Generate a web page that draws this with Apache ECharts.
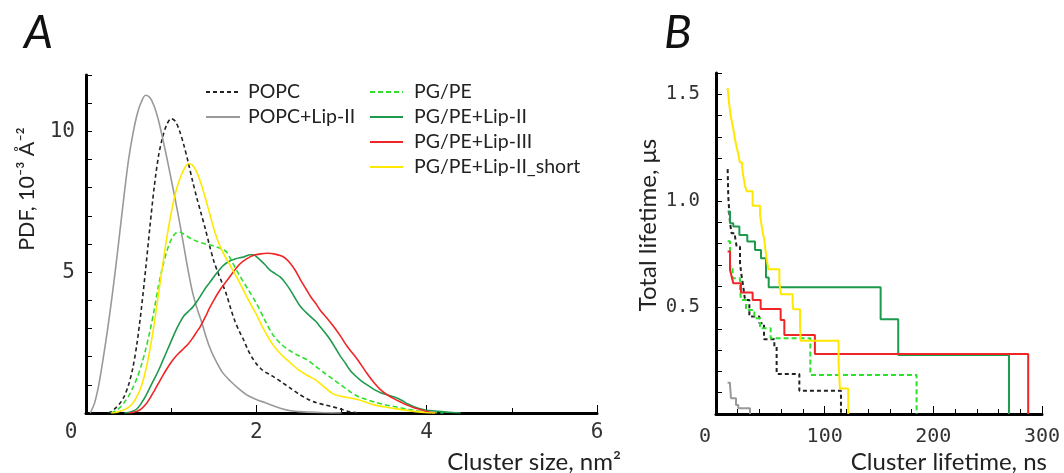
<!DOCTYPE html>
<html>
<head>
<meta charset="utf-8">
<script src="https://cdn.jsdelivr.net/npm/echarts@6/dist/echarts.min.js"></script>
<style>
html,body{margin:0;padding:0;background:#fff;}
#chart{width:1064px;height:473px;}
</style>
</head>
<body>
<div id="chart"></div>
<script>
// ---------- Panel A: PDF of cluster size (x in nm^2, y in 1e-3 A^-2) ----------
const popcPdf = [[0.26,0],[0.3,0.05],[0.35,0.18],[0.4,0.35],[0.45,0.6],[0.5,1.0],[0.55,1.6],[0.6,2.5],[0.65,3.7],[0.7,5.1],[0.75,6.6],[0.8,8.0],[0.85,9.1],[0.9,9.8],[0.95,10.25],[1.0,10.45],[1.05,10.35],[1.1,10.0],[1.15,9.5],[1.2,8.9],[1.25,8.25],[1.3,7.65],[1.35,7.1],[1.4,6.55],[1.45,5.95],[1.5,5.4],[1.55,4.98],[1.6,4.6],[1.65,4.2],[1.7,3.7],[1.75,3.25],[1.8,2.9],[1.85,2.6],[1.9,2.25],[1.95,1.97],[2.0,1.75],[2.05,1.58],[2.1,1.46],[2.15,1.38],[2.2,1.29],[2.3,1.09],[2.4,0.88],[2.5,0.67],[2.6,0.5],[2.7,0.37],[2.8,0.29],[2.9,0.22],[3.0,0.13],[3.1,0.04],[3.2,0]];
const popcLipIIPdf = [[0.05,0],[0.1,0.35],[0.15,1.0],[0.2,1.9],[0.25,2.9],[0.3,4.0],[0.35,5.2],[0.4,6.5],[0.45,7.8],[0.5,9.0],[0.55,9.9],[0.6,10.6],[0.65,11.05],[0.7,11.28],[0.75,11.2],[0.8,10.9],[0.85,10.4],[0.9,9.75],[0.95,9.05],[1.0,8.3],[1.05,7.55],[1.1,6.75],[1.15,5.9],[1.2,5.05],[1.25,4.3],[1.3,3.75],[1.35,3.3],[1.4,2.8],[1.45,2.35],[1.5,2.0],[1.6,1.45],[1.7,1.12],[1.8,0.85],[1.9,0.62],[2.0,0.48],[2.1,0.37],[2.2,0.26],[2.3,0.15],[2.4,0.08],[2.5,0.05],[2.6,0.03],[2.8,0.01],[3.0,0]];
const pgpePdf = [[0.29,0],[0.35,0.08],[0.4,0.2],[0.45,0.38],[0.5,0.6],[0.55,0.9],[0.6,1.25],[0.65,1.7],[0.7,2.25],[0.75,2.9],[0.8,3.65],[0.85,4.5],[0.9,5.2],[0.95,5.75],[1.0,6.15],[1.05,6.38],[1.1,6.42],[1.15,6.35],[1.2,6.25],[1.3,6.1],[1.4,6.0],[1.45,5.97],[1.5,5.93],[1.55,5.88],[1.6,5.82],[1.65,5.72],[1.7,5.45],[1.75,5.17],[1.8,4.9],[1.9,4.4],[2.0,3.9],[2.1,3.3],[2.2,2.75],[2.3,2.42],[2.4,2.2],[2.5,2.03],[2.6,1.88],[2.7,1.65],[2.8,1.42],[2.9,1.2],[3.0,0.98],[3.1,0.76],[3.2,0.58],[3.3,0.47],[3.4,0.38],[3.5,0.3],[3.6,0.24],[3.7,0.18],[3.8,0.12],[3.9,0.07],[4.0,0.03],[4.2,0]];
const pgpeLipIIPdf = [[0.45,0],[0.5,0.02],[0.55,0.06],[0.6,0.15],[0.65,0.35],[0.7,0.6],[0.75,0.9],[0.8,1.2],[0.85,1.5],[0.9,1.85],[0.95,2.2],[1.0,2.55],[1.05,2.9],[1.1,3.2],[1.15,3.45],[1.2,3.6],[1.25,3.75],[1.3,3.95],[1.35,4.18],[1.4,4.42],[1.45,4.62],[1.5,4.83],[1.55,5.02],[1.6,5.2],[1.67,5.37],[1.75,5.47],[1.85,5.54],[1.93,5.62],[1.97,5.62],[2.0,5.55],[2.05,5.42],[2.1,5.27],[2.16,5.07],[2.22,4.95],[2.28,4.83],[2.34,4.62],[2.4,4.36],[2.46,4.05],[2.52,3.77],[2.58,3.58],[2.64,3.41],[2.7,3.25],[2.75,3.06],[2.81,2.84],[2.87,2.59],[2.93,2.3],[2.99,2.0],[3.05,1.75],[3.1,1.52],[3.16,1.33],[3.22,1.17],[3.3,1.0],[3.38,0.84],[3.46,0.72],[3.54,0.64],[3.62,0.57],[3.7,0.46],[3.78,0.32],[3.85,0.22],[3.92,0.15],[4.0,0.1],[4.1,0.07],[4.2,0.04],[4.3,0.02],[4.4,0]];
const pgpeLipIIIPdf = [[0.5,0],[0.55,0.02],[0.6,0.06],[0.65,0.15],[0.7,0.3],[0.75,0.52],[0.8,0.78],[0.85,1.05],[0.9,1.32],[0.95,1.57],[1.0,1.8],[1.05,2.0],[1.1,2.15],[1.15,2.3],[1.2,2.45],[1.25,2.65],[1.3,2.88],[1.34,3.06],[1.4,3.4],[1.45,3.72],[1.5,4.0],[1.58,4.4],[1.66,4.72],[1.74,5.05],[1.81,5.3],[1.89,5.48],[1.97,5.6],[2.05,5.65],[2.13,5.67],[2.22,5.64],[2.32,5.54],[2.4,5.31],[2.46,5.05],[2.52,4.72],[2.58,4.42],[2.64,4.12],[2.7,3.88],[2.75,3.65],[2.83,3.36],[2.91,3.06],[2.99,2.72],[3.07,2.35],[3.15,2.05],[3.22,1.76],[3.3,1.4],[3.38,1.08],[3.46,0.82],[3.54,0.64],[3.62,0.5],[3.7,0.38],[3.77,0.28],[3.85,0.19],[3.93,0.12],[4.0,0.05],[4.1,0]];
const pgpeLipIIshortPdf = [[0.3,0],[0.35,0.02],[0.4,0.06],[0.45,0.12],[0.5,0.2],[0.55,0.35],[0.6,0.6],[0.65,0.95],[0.7,1.5],[0.75,2.25],[0.8,3.15],[0.85,4.2],[0.9,5.25],[0.95,6.25],[1.0,7.1],[1.05,7.8],[1.1,8.3],[1.15,8.65],[1.2,8.85],[1.25,8.8],[1.3,8.55],[1.35,8.15],[1.4,7.65],[1.45,7.1],[1.5,6.55],[1.55,6.1],[1.6,5.75],[1.7,5.2],[1.8,4.65],[1.9,4.05],[2.0,3.5],[2.1,2.9],[2.2,2.4],[2.3,2.05],[2.4,1.78],[2.5,1.52],[2.6,1.33],[2.7,1.17],[2.8,0.92],[2.9,0.68],[3.0,0.59],[3.1,0.53],[3.2,0.47],[3.3,0.37],[3.4,0.28],[3.5,0.22],[3.6,0.17],[3.7,0.12],[3.8,0.08],[3.9,0.04],[4.0,0.01],[4.1,0]];

// ---------- Panel B: total lifetime (us) vs cluster lifetime (ns), step curves ----------
const popcLife = [[10.7,1.149],[11.3,1.02],[12.9,0.895],[14.4,0.848],[17.5,0.832],[19,0.785],[22.1,0.707],[23.6,0.645],[25.1,0.598],[26.7,0.535],[30.7,0.457],[39.9,0.426],[44.2,0.351],[53.7,0.316],[55.8,0.188],[76.7,0.109],[115,0]];
const popcLipIILife = [[10.7,0.147],[12.9,0.136],[13.8,0.074],[18.4,0.042],[20.5,0.027],[31.3,0]];
const pgpeLife = [[10.7,0.81],[12.9,0.692],[15.3,0.637],[22.1,0.582],[23,0.535],[27.6,0.488],[35.3,0.449],[40.5,0.402],[50.3,0.355],[86.8,0.183],[184.6,0]];
const pgpeLipIILife = [[10.7,0.95],[12.9,0.895],[15.9,0.88],[21.5,0.84],[28.8,0.809],[35.9,0.77],[41.4,0.731],[46,0.64],[48.5,0.595],[151.5,0.445],[167.7,0.277],[269.6,0]];
const pgpeLipIIILife = [[10.7,0.762],[12.9,0.676],[14.4,0.645],[15.9,0.613],[23,0.57],[33.7,0.535],[41.1,0.493],[59.5,0.441],[62.9,0.371],[91,0.282],[287.3,0]];
const pgpeLipIIshortLife = [[10.7,1.53],[12,1.46],[13.5,1.40],[15,1.36],[16.5,1.32],[17.5,1.29],[19,1.25],[20.5,1.22],[22,1.18],[24,1.16],[25,1.12],[26.7,1.07],[28.2,1.045],[33.7,0.977],[40.5,0.934],[41.5,0.90],[42.6,0.864],[43.5,0.84],[44.5,0.817],[45.5,0.77],[46.6,0.728],[48.2,0.679],[58.3,0.616],[59.8,0.562],[70.5,0.52],[71.1,0.491],[77.3,0.418],[77.9,0.344],[112.8,0.238],[114,0.12],[121.7,0]];

const seriesNames = ['POPC','POPC+Lip-II','PG/PE','PG/PE+Lip-II','PG/PE+Lip-III','PG/PE+Lip-II_short'];
const colA = ['POPC','POPC+Lip-II'];
const colB = ['PG/PE','PG/PE+Lip-II','PG/PE+Lip-III','PG/PE+Lip-II_short'];
const pdfTicksX = [0,2,4,6];
const pdfTicksY = [5,10];
const lifeTicksX = [0,100,200,300];
const lifeTicksY = [0.5,1.0,1.5];

const styles = {
  'POPC': {color:'#222222', type:[4,3]},
  'POPC+Lip-II': {color:'#999999', type:'solid'},
  'PG/PE': {color:'#2ee02e', type:[5,3]},
  'PG/PE+Lip-II': {color:'#1e9a4e', type:'solid'},
  'PG/PE+Lip-III': {color:'#ee2626', type:'solid'},
  'PG/PE+Lip-II_short': {color:'#ffe800', type:'solid'}
};
const pdfData = [popcPdf, popcLipIIPdf, pgpePdf, pgpeLipIIPdf, pgpeLipIIIPdf, pgpeLipIIshortPdf];
const lifeData = [popcLife, popcLipIILife, pgpeLife, pgpeLipIILife, pgpeLipIIILife, pgpeLipIIshortLife];

const monoFont = 'DejaVu Sans Mono';
const sansFont = 'Lato';

const series = [];
seriesNames.forEach((n, i) => {
  series.push({
    name: n, type: 'line', xAxisIndex: 0, yAxisIndex: 0,
    data: pdfData[i], showSymbol: false, symbol: 'none', smooth: 0.3,
    lineStyle: {color: styles[n].color, type: styles[n].type, width: 1.6},
    itemStyle: {color: styles[n].color},
    silent: true, animation: false, z: 2
  });
});
seriesNames.forEach((n, i) => {
  series.push({
    name: n, type: 'line', xAxisIndex: 1, yAxisIndex: 1,
    data: lifeData[i], showSymbol: false, symbol: 'none', step: 'end',
    lineStyle: {color: styles[n].color, type: styles[n].type, width: 2},
    itemStyle: {color: styles[n].color},
    silent: true, animation: false, z: 2
  });
});

function axisCommon() {
  return {
    axisLine: {show: true, onZero: false, lineStyle: {color: '#000', width: 3}},
    splitLine: {show: false},
    axisTick: {show: true, inside: true, length: 6, lineStyle: {color: '#000', width: 1}}
  };
}
const labA = {fontFamily: monoFont, fontSize: 21, color: '#333'};
const labBx = {fontFamily: monoFont, fontSize: 20, color: '#333'};
const labBy = {fontFamily: monoFont, fontSize: 19, color: '#333'};

const legendText = {fontFamily: sansFont, fontSize: 19.5, color: '#222', lineHeight: 16};

const option = {
  backgroundColor: '#fff',
  animation: false,
  grid: [
    {left: 86, right: 467, top: 75, bottom: 60},
    {left: 716, right: 22, top: 73, bottom: 59}
  ],
  xAxis: [
    Object.assign(axisCommon(), {
      gridIndex: 0, type: 'value', min: 0, max: 6, interval: 2,
      minorTick: {show: true, splitNumber: 2, length: 5, lineStyle: {color: '#000'}},
      axisTick: {show: true, inside: true, length: 8, lineStyle: {color: '#000', width: 1}},
      axisLabel: Object.assign({}, labA, {margin: 9,
        formatter: v => pdfTicksX.indexOf(v) >= 0 ? (v === 0 ? '{z|0}' : String(v)) : '',
        rich: {z: Object.assign({}, labA, {padding: [0, 30, 0, 0]})}})
    }),
    Object.assign(axisCommon(), {
      gridIndex: 1, type: 'value', min: 0, max: 300, interval: 100,
      minorTick: {show: true, splitNumber: 5, length: 5, lineStyle: {color: '#000'}},
      axisTick: {show: true, inside: true, length: 8, lineStyle: {color: '#000', width: 1}},
      axisLabel: Object.assign({}, labBx, {margin: 13,
        formatter: v => lifeTicksX.indexOf(v) >= 0 ? (v === 0 ? '{z|0}' : String(v)) : '',
        rich: {z: Object.assign({}, labBx, {padding: [0, 22, 0, 0]})}})
    })
  ],
  yAxis: [
    Object.assign(axisCommon(), {
      gridIndex: 0, type: 'value', min: 0, max: 12, interval: 1,
      axisLabel: Object.assign({}, labA, {margin: 11,
        formatter: v => pdfTicksY.indexOf(v) >= 0 ? String(v) : ''})
    }),
    Object.assign(axisCommon(), {
      gridIndex: 1, type: 'value', min: 0, max: 1.6, interval: 0.1,
      axisLabel: Object.assign({}, labBy, {margin: 16,
        formatter: v => lifeTicksY.some(t => Math.abs(t - v) < 1e-6) ? v.toFixed(1) : ''})
    })
  ],
  legend: [
    {data: colA, orient: 'vertical', left: 205, top: 82, itemWidth: 34, itemHeight: 14, itemGap: 5,
     padding: 0, selectedMode: false, itemStyle: {opacity: 0},
     textStyle: Object.assign({}, legendText, {padding: [0,0,0,3]})},
    {data: colB, orient: 'vertical', left: 369, top: 82, itemWidth: 33, itemHeight: 14, itemGap: 5,
     padding: 0, selectedMode: false, itemStyle: {opacity: 0},
     textStyle: Object.assign({}, legendText, {padding: [0,0,0,6]})}
  ],
  graphic: [
    {type: 'text', left: 24, top: 10, style: {text: 'A', fontFamily: sansFont, fontStyle: 'italic', fontSize: 46, fill: '#111'}},
    {type: 'text', left: 664, top: 10, style: {text: 'B', fontFamily: sansFont, fontStyle: 'italic', fontSize: 46, fill: '#111'}},
    {type: 'text', x: 27, y: 189, rotation: Math.PI / 2,
     style: {text: 'PDF, 10⁻³ Å⁻²', fontFamily: sansFont, fontSize: 21.5, fill: '#222', align: 'center', verticalAlign: 'middle'}},
    {type: 'text', x: 648, y: 225, rotation: Math.PI / 2,
     style: {text: 'Total lifetime, μs', fontFamily: sansFont, fontSize: 24, fill: '#222', align: 'center', verticalAlign: 'middle'}},
    {type: 'text', x: 621, y: 462,
     style: {text: 'Cluster size, nm²', fontFamily: sansFont, fontSize: 24, fill: '#222', align: 'right', verticalAlign: 'middle'}},
    {type: 'text', x: 1047, y: 462,
     style: {text: 'Cluster lifetime, ns', fontFamily: sansFont, fontSize: 24, fill: '#222', align: 'right', verticalAlign: 'middle'}}
  ],
  series: series
};

const chart = echarts.init(document.getElementById('chart'), null, {renderer: 'canvas'});
chart.setOption(option);
</script>
</body>
</html>
